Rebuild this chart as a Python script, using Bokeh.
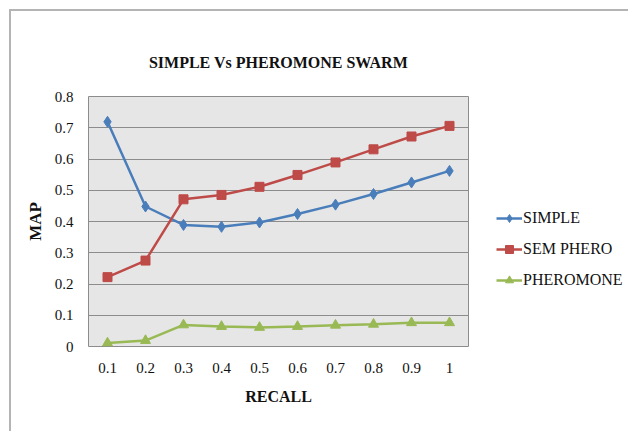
from bokeh.plotting import figure
from bokeh.models import Legend, LegendItem, FixedTicker, ColumnDataSource
from bokeh.embed import file_html
from bokeh.resources import INLINE

recall = ["0.1", "0.2", "0.3", "0.4", "0.5", "0.6", "0.7", "0.8", "0.9", "1"]
simple = [0.719, 0.448, 0.389, 0.383, 0.397, 0.424, 0.454, 0.488, 0.525, 0.562]
sem_phero = [0.222, 0.275, 0.471, 0.485, 0.511, 0.549, 0.589, 0.631, 0.672, 0.706]
pheromone = [0.011, 0.019, 0.069, 0.064, 0.061, 0.064, 0.068, 0.071, 0.076, 0.076]
y_ticks = [0, 0.1, 0.2, 0.3, 0.4, 0.5, 0.6, 0.7, 0.8]

FONT = "Liberation Serif"

p = figure(x_range=recall, y_range=(0, 0.8), frame_width=380, frame_height=250,
           output_backend="svg", toolbar_location=None,
           min_border_left=77, min_border_right=150, min_border_top=85, min_border_bottom=85,
           title="SIMPLE Vs PHEROMONE SWARM")
p.styles = {"border-top": "2px solid #b4b4b4", "border-left": "2px solid #b4b4b4",
            "margin-left": "9px", "margin-top": "9px"}

p.title.text_font = FONT
p.title.text_font_size = "16px"
p.title.text_font_style = "bold"
p.title.align = "center"
p.title.text_color = "#111111"
p.title.standoff = 52

p.background_fill_color = "#e6e6e6"
p.border_fill_color = "white"
p.outline_line_color = "#8c8c8c"
p.outline_line_width = 1

p.xgrid.grid_line_color = None
p.ygrid.grid_line_color = "#8c8c8c"
p.ygrid.grid_line_width = 1

p.yaxis.ticker = FixedTicker(ticks=y_ticks)
p.yaxis.major_label_overrides = {0: "0", 0.1: "0.1", 0.2: "0.2", 0.3: "0.3", 0.4: "0.4",
                                  0.5: "0.5", 0.6: "0.6", 0.7: "0.7", 0.8: "0.8"}
for ax in (p.xaxis[0], p.yaxis[0]):
    ax.axis_line_color = None
    ax.major_tick_line_color = None
    ax.minor_tick_line_color = None
    ax.major_tick_out = 0
    ax.major_tick_in = 0
    ax.major_label_text_font = FONT
    ax.major_label_text_font_size = "15px"
    ax.major_label_text_color = "#111111"
    ax.axis_label_text_font = FONT
    ax.axis_label_text_font_style = "bold"
    ax.axis_label_text_color = "#111111"

p.xaxis.axis_label_text_font_size = "16px"
p.yaxis.axis_label_text_font_size = "17px"
p.yaxis.major_label_standoff = 15
p.xaxis.major_label_standoff = 16
p.xaxis.axis_label = "RECALL"
p.yaxis.axis_label = "MAP"
p.xaxis.axis_label_standoff = 12
p.yaxis.axis_label_standoff = 7

src = ColumnDataSource(dict(x=recall, simple=simple, sem=sem_phero, pher=pheromone))

blue, red, green = "#4a7ebb", "#be4b48", "#98b954"
l1 = p.line("x", "simple", source=src, color=blue, line_width=2.5)
m1 = p.scatter("x", "simple", source=src, marker="diamond", size=11, color=blue)
l2 = p.line("x", "sem", source=src, color=red, line_width=2.5)
m2 = p.scatter("x", "sem", source=src, marker="square", size=9, color=red)
l3 = p.line("x", "pher", source=src, color=green, line_width=2.5)
m3 = p.scatter("x", "pher", source=src, marker="triangle", size=10, color=green)

legend = Legend(items=[
    LegendItem(label="SIMPLE", renderers=[l1, m1]),
    LegendItem(label="SEM PHERO", renderers=[l2, m2]),
    LegendItem(label="PHEROMONE", renderers=[l3, m3]),
], location=(28, 56), orientation="vertical")
legend.label_text_font = FONT
legend.label_text_font_size = "16px"
legend.label_text_color = "#111111"
legend.border_line_color = None
legend.background_fill_alpha = 0
legend.spacing = 11
legend.glyph_width = 26
legend.label_standoff = 1
legend.padding = 5
legend.margin = 23
p.add_layout(legend, "right")

open("out.html", "w").write(file_html(p, INLINE))
